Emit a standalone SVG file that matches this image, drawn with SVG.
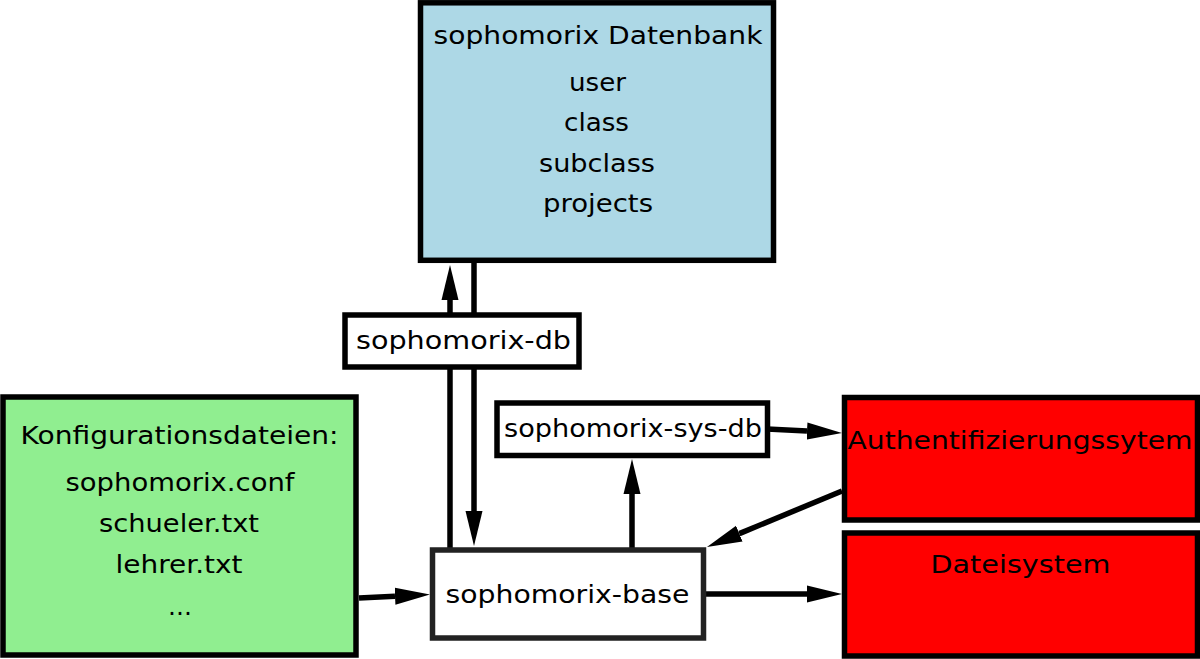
<svg xmlns="http://www.w3.org/2000/svg" width="1200" height="659" viewBox="0 0 1200 659">
<style>
.box{stroke:#000;stroke-width:5.5}
.t{font-family:"DejaVu Sans","Liberation Sans",sans-serif;font-size:25px;fill:#000;text-anchor:middle}
.c{stroke:#000;stroke-width:5.5;fill:none}
</style>
<defs>
<marker id="ah" markerUnits="userSpaceOnUse" markerWidth="36" markerHeight="18" viewBox="0 0 36 18" refX="0" refY="9" orient="auto">
<path d="M0,0.5 L35,9 L0,17.5 z" fill="#000"/>
</marker>
</defs>
<rect width="1200" height="659" fill="#fff"/>
<g id="connectors">
<line class="c" x1="450" y1="315" x2="450" y2="300" marker-end="url(#ah)"/>
<line class="c" x1="474" y1="260" x2="474" y2="315"/>
<line class="c" x1="450" y1="550" x2="450" y2="367"/>
<line class="c" x1="474" y1="367" x2="474" y2="511" marker-end="url(#ah)"/>
<line class="c" x1="632" y1="550" x2="632" y2="494" marker-end="url(#ah)"/>
<line class="c" x1="767" y1="429" x2="807" y2="431.1" marker-end="url(#ah)"/>
<line class="c" x1="842" y1="491" x2="739.3" y2="533.6" marker-end="url(#ah)"/>
<line class="c" x1="706" y1="594" x2="807" y2="594" marker-end="url(#ah)"/>
<line class="c" x1="359" y1="598" x2="395" y2="596.2" marker-end="url(#ah)"/>
</g>
<g id="datenbank">
<rect class="box" x="420.5" y="2.8" width="353" height="257.5" fill="#add8e6"/>
<text class="t" x="598" y="44" textLength="329" lengthAdjust="spacingAndGlyphs">sophomorix Datenbank</text>
<text class="t" x="597.5" y="91" textLength="57" lengthAdjust="spacingAndGlyphs">user</text>
<text class="t" x="596.5" y="131" textLength="65" lengthAdjust="spacingAndGlyphs">class</text>
<text class="t" x="597" y="172" textLength="116" lengthAdjust="spacingAndGlyphs">subclass</text>
<text class="t" x="598" y="212" textLength="110" lengthAdjust="spacingAndGlyphs">projects</text>
</g>
<g id="sophomorix-db">
<rect class="box" x="345" y="315" width="234" height="52" fill="#fff"/>
<text class="t" x="463.5" y="349" textLength="215" lengthAdjust="spacingAndGlyphs">sophomorix-db</text>
</g>
<g id="sophomorix-sys-db">
<rect class="box" x="497" y="403" width="270.5" height="52.5" fill="#fff"/>
<text class="t" x="633" y="437" textLength="258" lengthAdjust="spacingAndGlyphs">sophomorix-sys-db</text>
</g>
<g id="sophomorix-base">
<rect x="432.5" y="550" width="271" height="88" fill="#fff" stroke="#222" stroke-width="5.5"/>
<text class="t" x="567.5" y="603" textLength="244" lengthAdjust="spacingAndGlyphs">sophomorix-base</text>
</g>
<g id="auth">
<rect class="box" x="844.5" y="397.5" width="353" height="122.5" fill="#f00"/>
<text class="t" x="1020" y="449" textLength="345" lengthAdjust="spacingAndGlyphs">Authentifizierungssytem</text>
</g>
<g id="dateisystem">
<rect class="box" x="844.5" y="533" width="353" height="123" fill="#f00"/>
<text class="t" x="1020.5" y="573" textLength="180" lengthAdjust="spacingAndGlyphs">Dateisystem</text>
</g>
<g id="konfiguration">
<rect class="box" x="3" y="397" width="353" height="258" fill="#90ee90"/>
<text class="t" x="179.5" y="444" textLength="318" lengthAdjust="spacingAndGlyphs">Konfigurationsdateien:</text>
<text class="t" x="180" y="491" textLength="229" lengthAdjust="spacingAndGlyphs">sophomorix.conf</text>
<text class="t" x="179" y="532" textLength="160" lengthAdjust="spacingAndGlyphs">schueler.txt</text>
<text class="t" x="179" y="573" textLength="127" lengthAdjust="spacingAndGlyphs">lehrer.txt</text>
<text class="t" x="180" y="615">...</text>
</g>
</svg>
